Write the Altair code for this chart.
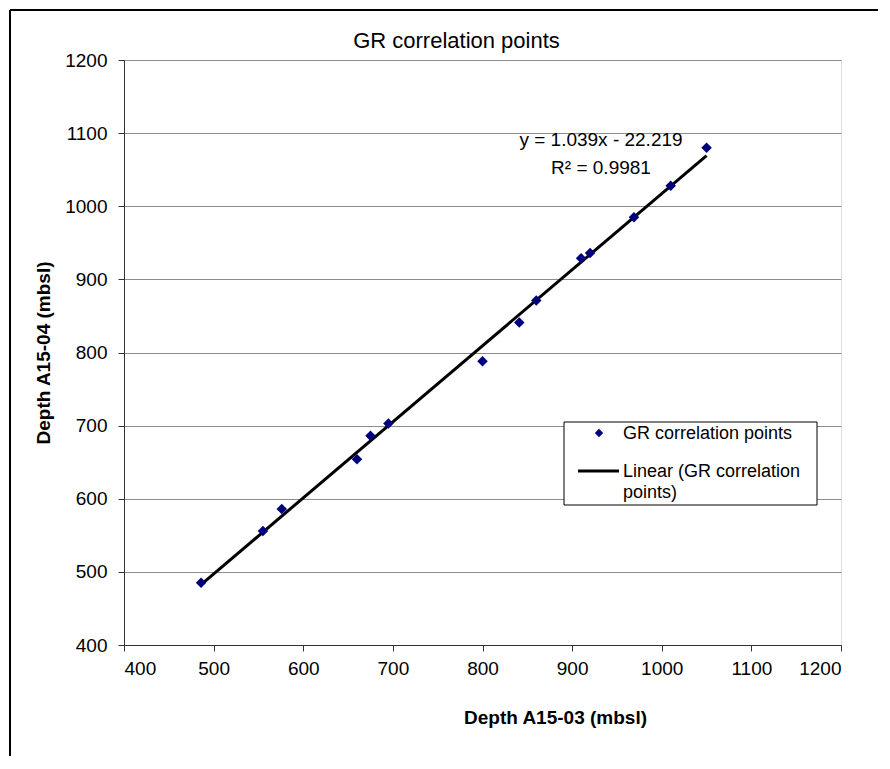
import altair as alt
import pandas as pd

# Data
depth_a15_03 = [486, 555, 576, 660, 675, 695, 800, 841, 860, 910, 920, 969, 1010, 1050]
depth_a15_04 = [485, 556, 586, 654, 686, 703, 788, 841, 871, 929, 936, 985, 1028, 1080]
tick_values = [400, 500, 600, 700, 800, 900, 1000, 1100, 1200]
series_name = "GR correlation points"
trend_line1 = "Linear (GR correlation"
trend_line2 = "points)"
equation_text = ["y = 1.039x - 22.219", "R² = 0.9981"]

df = pd.DataFrame({"x": depth_a15_03, "y": depth_a15_04})

FONT = "Liberation Sans"
W, H = 717, 585
PAD_L, PAD_T, PAD_R, PAD_B = 116, 52, 37, 111

one = alt.Data(values=[{}])

xscale = alt.Scale(domain=[400, 1200], nice=False, zero=False)
yscale = alt.Scale(domain=[400, 1200], nice=False, zero=False)

x_axis = alt.Axis(
    values=tick_values, format="d", grid=False, tickSize=6, tickColor="#333333",
    domainColor="#333333", labelFontSize=19, labelPadding=8, labelFont=FONT,
    labelColor="black", title="Depth A15-03 (mbsl)", titleFont=FONT,
    titleFontSize=19, titleFontWeight="bold", titleColor="black",
    titleX=431, titleY=78, titleBaseline="alphabetic", titleAlign="center",
)
y_axis = alt.Axis(
    values=tick_values, format="d", grid=True, gridColor="#8c8c8c", gridWidth=1,
    tickSize=6, tickColor="#333333", domainColor="#333333",
    labelFontSize=19, labelPadding=11, labelFont=FONT, labelColor="black",
    title="Depth A15-04 (mbsl)", titleFont=FONT, titleFontSize=19,
    titleFontWeight="bold", titleColor="black", titleX=-75, titleY=H / 2,
    titleAngle=270, titleBaseline="alphabetic", titleAlign="center",
)

points = alt.Chart(df).mark_point(
    shape="diamond", filled=True, size=110, color="#00007f", opacity=1
).encode(
    x=alt.X("x:Q", scale=xscale, axis=x_axis),
    y=alt.Y("y:Q", scale=yscale, axis=y_axis),
)

trend = alt.Chart(df).transform_regression("x", "y").mark_line(
    color="black", strokeWidth=3
).encode(x=alt.X("x:Q", scale=xscale), y=alt.Y("y:Q", scale=yscale))

equation = alt.Chart(one).mark_text(
    font=FONT, fontSize=19, color="black", align="center",
    baseline="alphabetic", lineHeight=28,
).encode(x=alt.value(477), y=alt.value(86), text=alt.value(equation_text))

# Outer frame (top and left edges visible in the reference)
frame_top = alt.Chart(one).mark_rule(color="black", strokeWidth=2).encode(
    x=alt.value(-114), x2=alt.value(W + PAD_R + 10), y=alt.value(-50)
)
frame_left = alt.Chart(one).mark_rule(color="black", strokeWidth=2).encode(
    x=alt.value(-114), y=alt.value(-50), y2=alt.value(H + PAD_B + 10)
)

# Legend box drawn inside the plot
legend_box = alt.Chart(one).mark_rect(
    fill="white", stroke="black", strokeWidth=1
).encode(x=alt.value(440), x2=alt.value(693), y=alt.value(362), y2=alt.value(445))
legend_sym = alt.Chart(one).mark_point(
    shape="diamond", filled=True, size=70, color="#00007f", opacity=1
).encode(x=alt.value(475), y=alt.value(373))
legend_line = alt.Chart(one).mark_rule(color="black", strokeWidth=3).encode(
    x=alt.value(454), x2=alt.value(495), y=alt.value(411)
)
legend_t1 = alt.Chart(one).mark_text(
    font=FONT, fontSize=18, color="black", align="left", baseline="alphabetic"
).encode(x=alt.value(499), y=alt.value(379), text=alt.value(series_name))
legend_t2 = alt.Chart(one).mark_text(
    font=FONT, fontSize=18, color="black", align="left", baseline="alphabetic"
).encode(x=alt.value(499), y=alt.value(417), text=alt.value(trend_line1))
legend_t3 = alt.Chart(one).mark_text(
    font=FONT, fontSize=18, color="black", align="left", baseline="alphabetic"
).encode(x=alt.value(499), y=alt.value(438), text=alt.value(trend_line2))

chart = alt.layer(
    frame_top, frame_left, trend, points, equation,
    legend_box, legend_sym, legend_line, legend_t1, legend_t2, legend_t3,
).properties(
    width=W, height=H,
    title=alt.TitleParams(
        "GR correlation points", font=FONT, fontSize=22, fontWeight="normal",
        color="black", anchor="middle", dx=-26, offset=-61, baseline="alphabetic",
        frame="group",
    ),
    autosize=alt.AutoSizeParams(type="none"),
    padding={"left": PAD_L, "top": PAD_T, "right": PAD_R, "bottom": PAD_B},
).configure_view(stroke="#888888", strokeWidth=1.5).configure(background="white")

chart.save("out.html", embed_options={"renderer": "svg", "actions": False})
